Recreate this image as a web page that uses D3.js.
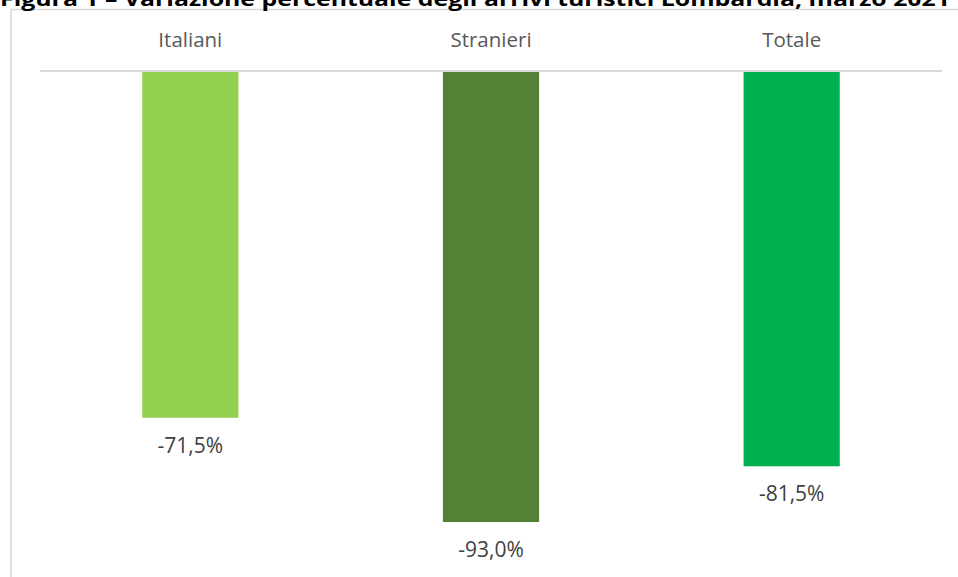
<!DOCTYPE html>
<html>
<head>
<meta charset="utf-8">
<script src="https://cdn.jsdelivr.net/npm/d3@7"></script>
<style>
html,body{margin:0;padding:0;background:#fff;}
svg{display:block;}
</style>
</head>
<body>
<svg id="chart" width="958" height="577"></svg>
<script>
const title = "Figura 1 – Variazione percentuale degli arrivi turistici Lombardia, marzo 2021";
const categories = ["Italiani", "Stranieri", "Totale"];
const values = [-71.5, -93.0, -81.5];
const colors = ["#92d050", "#538135", "#00b050"];

const svg = d3.select("#chart");
const W = 958, H = 577;

// frame
svg.append("rect")
  .attr("x", 11).attr("y", 9.5)
  .attr("width", 960).attr("height", 600)
  .attr("fill", "none").attr("stroke", "#d9d9d9").attr("stroke-width", 1.5);

// title (clipped at top like the reference)
svg.append("text")
  .attr("x", 0).attr("y", 6)
  .attr("font-family", "'Open Sans', sans-serif")
  .attr("font-weight", "bold")
  .attr("font-size", 20)
  .attr("fill", "#000")
  .attr("textLength", 950)
  .attr("lengthAdjust", "spacingAndGlyphs")
  .text(title);

const x = d3.scaleBand().domain(categories).range([40, 942]).paddingInner(0.68).paddingOuter(0.34);
const y = d3.scaleLinear().domain([-100, 0]).range([556, 71]);

// bars
svg.append("g").selectAll("rect")
  .data(categories)
  .join("rect")
  .attr("x", d => x(d))
  .attr("width", x.bandwidth())
  .attr("y", y(0))
  .attr("height", (d, i) => y(values[i]) - y(0))
  .attr("fill", (d, i) => colors[i]);

// zero axis line
svg.append("line")
  .attr("x1", 40).attr("x2", 942)
  .attr("y1", y(0)).attr("y2", y(0))
  .attr("stroke", "#d9d9d9").attr("stroke-width", 2);

// category labels
svg.append("g").selectAll("text")
  .data(categories)
  .join("text")
  .attr("x", d => x(d) + x.bandwidth() / 2)
  .attr("y", 47)
  .attr("text-anchor", "middle")
  .attr("font-family", "'Open Sans', sans-serif")
  .attr("font-size", 20.5)
  .attr("fill", "#595959")
  .text(d => d);

// value labels
const fmt = v => v.toFixed(1).replace(".", ",") + "%";
svg.append("g").selectAll("text")
  .data(categories)
  .join("text")
  .attr("x", d => x(d) + x.bandwidth() / 2)
  .attr("y", (d, i) => y(values[i]) + 35)
  .attr("text-anchor", "middle")
  .attr("font-family", "'Open Sans', sans-serif")
  .attr("font-size", 21)
  .attr("fill", "#404040")
  .text((d, i) => fmt(values[i]));
</script>
</body>
</html>
